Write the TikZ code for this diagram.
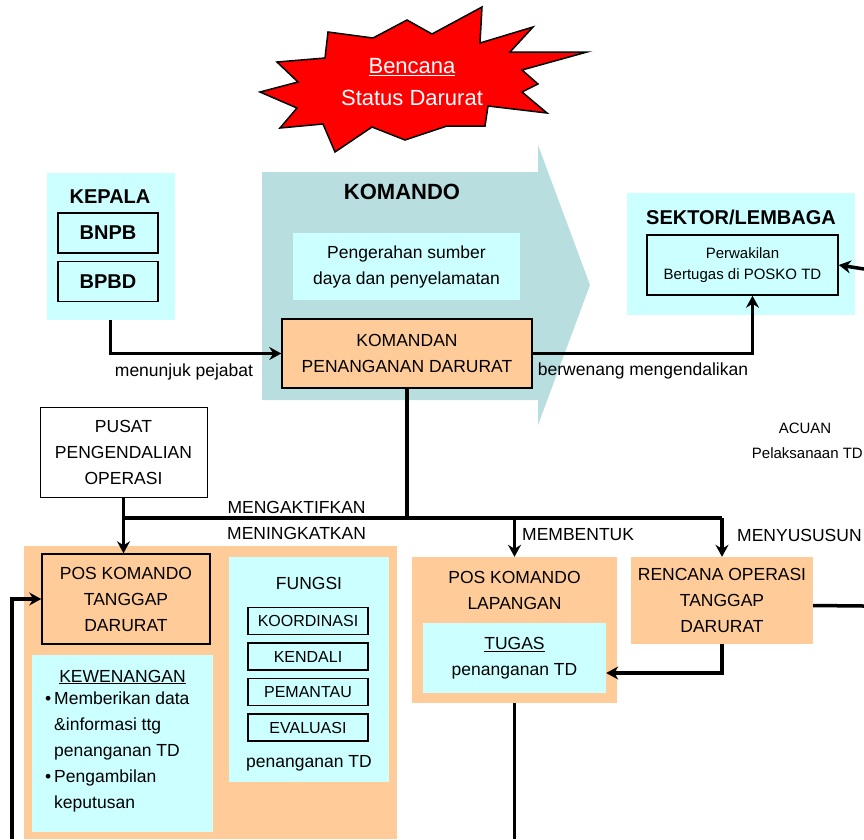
\documentclass[tikz,border=0pt]{standalone}
\usepackage{fontspec}
\setmainfont{Liberation Sans}
\usetikzlibrary{positioning}
\usetikzlibrary{arrows.meta}
\definecolor{cyanbg}{RGB}{204,255,255}
\definecolor{orangebg}{RGB}{255,204,153}
\definecolor{armbg}{RGB}{184,222,224}
\tikzset{>={Stealth[length=12pt,width=13pt,inset=4pt]}}
\tikzset{conn/.style={line width=3.5pt}}
\tikzset{cbox/.style={fill=cyanbg, inner sep=0pt}}
\tikzset{obox/.style={fill=orangebg, inner sep=0pt}}
\tikzset{tbox/.style={draw, line width=1.5pt, inner sep=0pt}}
\tikzset{txt/.style={font=\fontsize{17.5}{26}\selectfont, align=center, inner sep=0pt}}
\tikzset{small/.style={font=\fontsize{15}{21}\selectfont, align=center, inner sep=0pt}}
\tikzset{head/.style={font=\bfseries\fontsize{20}{24}\selectfont, inner sep=0pt}}
\tikzset{fbox/.style={tbox, txt, font=\fontsize{16}{20}\selectfont, minimum width=120pt, minimum height=27pt}}

\begin{document}
\begin{tikzpicture}[x=1pt,y=-1pt]
\useasboundingbox (0,0) rectangle (864,839);

\fill[armbg] (262,172) -- (538,172) -- (538,145) -- (590,285) -- (538,425) -- (538,400) -- (262,400) -- cycle;
\draw[fill=red, line width=1.5pt] (328,32) -- (373,38) -- (407,20) -- (432,34) -- (482,7) -- (480,43)
  -- (533,27) -- (510,52) -- (587,52) -- (522,70) -- (538,84) -- (522,92) -- (547,113) -- (488,106)
  -- (485,126) -- (447,126) -- (405,140) -- (372,127) -- (335,152) -- (323,124) -- (280,128)
  -- (297,108) -- (260,92) -- (298,82) -- (277,62) -- (325,58) -- cycle;
\node[white, font=\fontsize{22}{32}\selectfont, align=center, inner sep=0pt] (bencana) at (412,82) {\underline{Bencana}\\Status Darurat};

\node[head, font=\bfseries\fontsize{22}{26}\selectfont] (komando) at (402,192) {KOMANDO};
\node[cbox, txt, minimum width=227pt, minimum height=67pt] (sumber) at (406.5,266.5) {Pengerahan sumber\\daya dan penyelamatan};
\node[obox, tbox, txt, minimum width=250pt, minimum height=69pt] (komandan) at (407,353.5) {KOMANDAN\\PENANGANAN DARURAT};

\node[cbox, minimum width=128pt, minimum height=147pt] (kepala) at (110.5,246.5) {};
\node[head] (kepalat) at (110,197) {KEPALA};
\node[tbox, head, minimum width=100pt, minimum height=40pt] (bnpb) at (108,233) {BNPB};
\node[tbox, head, minimum width=100pt, minimum height=40pt] (bpbd) [below=7pt of bnpb] {BPBD};

\node[cbox, minimum width=228pt, minimum height=122pt] (sektor) at (741,254) {};
\node[head] (sektort) at (741,217) {SEKTOR/LEMBAGA};
\node[tbox, small, minimum width=191pt, minimum height=60pt] (wakil) at (742.5,265) {Perwakilan\\Bertugas di POSKO TD};

\node[small] (acuan) at (805,428) {ACUAN};
\node[small, anchor=east] (laksana) at (863,453) {Pelaksanaan TD};

\node[tbox, fill=white, txt, line width=1pt, minimum width=167pt, minimum height=90pt] (pusat) at (123.5,452) {PUSAT\\PENGENDALIAN\\OPERASI};

\node[obox, minimum width=373pt, minimum height=293pt] (posbesar) at (210.5,692.5) {};
\node[obox, tbox, txt, minimum width=168pt, minimum height=90pt] (poskt) at (126,599) {POS KOMANDO\\TANGGAP\\DARURAT};
\node[cbox, minimum width=181pt, minimum height=177pt] (wenang) at (122.5,743.5) {};
\node[txt] (wenangt) at (122.5,677) {\underline{KEWENANGAN}};
\node[txt, align=left, anchor=north west] (wenangi) at (45,692) {•\,Memberikan data\\\phantom{•\,}\&informasi ttg\\\phantom{•\,}penanganan TD\\•\,Pengambilan\\\phantom{•\,}keputusan};

\node[cbox, minimum width=160pt, minimum height=225pt] (fungsi) at (309,669.5) {};
\node[txt] (fungsit) at (309,583) {FUNGSI};
\node[fbox] (koord) at (308,621) {KOORDINASI};
\node[fbox] (kendali) [below=7pt of koord] {KENDALI};
\node[fbox] (pantau) [below=7pt of kendali] {PEMANTAU};
\node[fbox] (evaluasi) [below=7pt of pantau] {EVALUASI};
\node[txt] (fungsib) at (309,763) {penanganan TD};

\node[obox, minimum width=205pt, minimum height=146pt] (poslap) at (514.5,630) {};
\node[txt] (poslapt) at (514.5,590.5) {POS KOMANDO\\LAPANGAN};
\node[cbox, txt, minimum width=183pt, minimum height=70pt] (tugas) at (514.5,658) {\underline{TUGAS}\\penanganan TD};

\node[obox, txt, minimum width=182pt, minimum height=87pt] (rencana) at (722,600.5) {RENCANA OPERASI\\TANGGAP\\DARURAT};

\coordinate (kanan1) at (864,269);
\coordinate (kanan2) at (864,606);
\coordinate (bawahkiri) at (12,839);
\coordinate (bawahtengah) at (514.5,839);
\coordinate (busl) at (123.5,518);
\coordinate (busr) at (722,518);

\draw[conn,->] (kepala.south) |- (komandan.west);
\node[txt] (tunjuk) at (184,372) {menunjuk pejabat};
\draw[conn,->] (komandan.east) -| ([xshift=10pt]wakil.south);
\node[txt] (kendalikan) at (643,371) {berwenang mengendalikan};
\draw[conn,->] (kanan1) -- (wakil.east);

\draw[conn] (komandan.south) -- (komandan.south |- busl);
\draw[conn] (busl) -- (busr);
\draw[conn,->] (pusat.south) -- (pusat.south |- poskt.north);
\node[txt, anchor=west] (aktif) at (227,520) {MENGAKTIFKAN\\MENINGKATKAN};
\draw[conn,->] (busl -| poslap.north) -- (poslap.north);
\node[txt, anchor=west] (bentuk) at (522,535) {MEMBENTUK};
\draw[conn,->] (busr) -- (rencana.north);
\node[txt, anchor=west] (susun) at (737,535) {MENYUSUSUN};

\draw[conn,->] (rencana.south) |- ([yshift=-15pt]tugas.east);
\draw[conn] ([yshift=-5pt]rencana.east) -- (kanan2);
\draw[conn] (poslap.south) -- (bawahtengah);
\draw[conn,->] (bawahkiri) |- (poskt.west);
\end{tikzpicture}
\end{document}
